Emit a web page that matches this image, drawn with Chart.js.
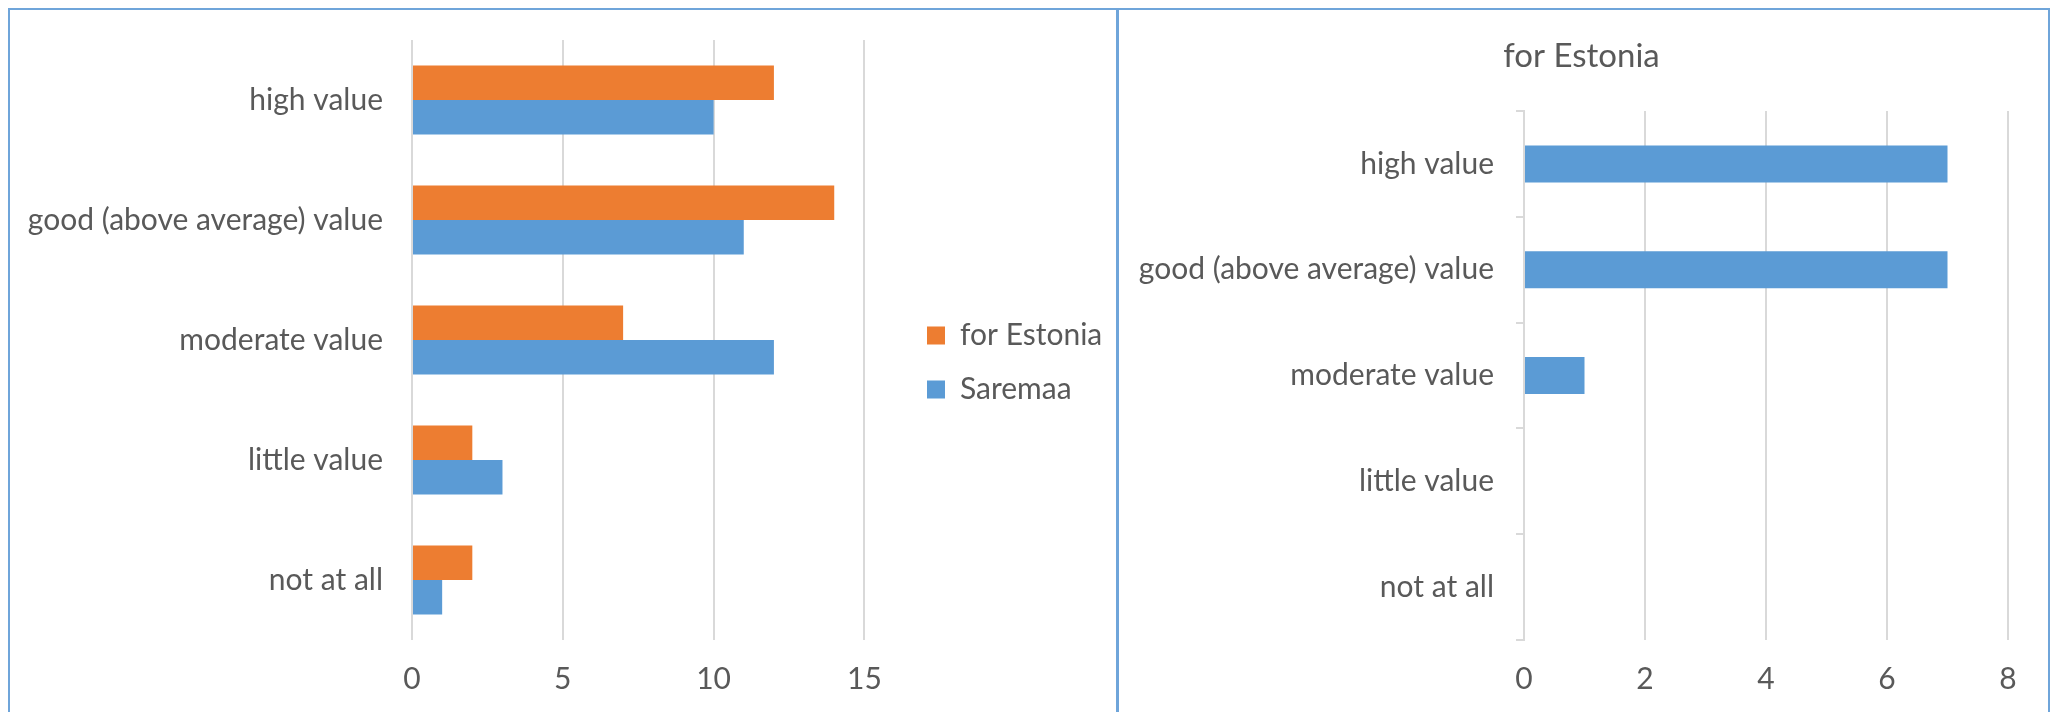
<!DOCTYPE html>
<html>
<head>
<meta charset="utf-8">
<script src="https://cdn.jsdelivr.net/npm/chart.js@4.4.1/dist/chart.umd.min.js"></script>
<style>
  html, body { margin: 0; padding: 0; background: #fff; overflow: hidden; }
  .panel { position: absolute; top: 8px; height: 720px; border: 2px solid #6fa5da; box-sizing: border-box; }
  #p1 { left: 8px; width: 1110px; }
  #p2 { left: 1117px; width: 933px; }
  canvas { position: absolute; }
</style>
</head>
<body>
<div class="panel" id="p1"></div>
<div class="panel" id="p2"></div>
<div style="position:absolute;left:10px;top:10px;width:1106px;height:702px;"><canvas id="leftChart"></canvas></div>
<div style="position:absolute;left:1119px;top:10px;width:928px;height:702px;"><canvas id="rightChart"></canvas></div>
<script>
const categories = ['high value', 'good (above average) value', 'moderate value', 'little value', 'not at all'];
const estoniaValues = [12, 14, 7, 2, 2];
const saremaaValues = [10, 11, 12, 3, 1];
const rightValues = [7, 7, 1, 0, 0];
const leftTicks = [0, 5, 10, 15];

const FONT = "Lato, 'Open Sans', sans-serif";
const FS = 30;
const TEXT = '#595959';
const GRID = '#d9d9d9';
const ORANGE = '#ED7D31';
const BLUE = '#5B9BD5';

Chart.defaults.font.family = FONT;
Chart.defaults.color = TEXT;
Chart.defaults.animation = false;

// nudge the title a little to the right, like in the original
const titleShift = {
    id: 'titleShift',
    afterLayout(chart) {
        const t = chart.titleBlock;
        if (t) { t.left += 18; t.right += 18; }
    }
};

document.addEventListener('DOMContentLoaded', () => {
    const left = document.getElementById('leftChart');
    left.width = 1106; left.height = 702;
    const lctx = left.getContext('2d');

    // legend sits right of the plot; work out its width so the plot ends where it should
    lctx.font = FS + 'px ' + FONT;
    const legPad = 24, box = 18;
    const textW = Math.max(lctx.measureText('for Estonia').width, lctx.measureText('Saremaa').width);
    const legendW = legPad + box + FS / 2 + textW + 12;
    const plotRight = 891;
    const padRight = Math.max(0, 1106 - plotRight - legendW);

    new Chart(lctx, {
        type: 'bar',
        data: {
            labels: categories,
            datasets: [
                { label: 'for Estonia', data: estoniaValues, backgroundColor: ORANGE, borderWidth: 0,
                  categoryPercentage: 0.575, barPercentage: 1.0 },
                { label: 'Saremaa', data: saremaaValues, backgroundColor: BLUE, borderWidth: 0,
                  categoryPercentage: 0.575, barPercentage: 1.0 }
            ]
        },
        options: {
            indexAxis: 'y',
            responsive: false,
            layout: { padding: { top: 30, right: padRight, left: 0, bottom: 0 } },
            plugins: {
                tooltip: { enabled: false },
                legend: {
                    position: 'right',
                    fullSize: false,
                    title: { display: true, text: '', font: { size: 15 }, padding: 13.5 },
                    labels: { boxWidth: box, boxHeight: box, padding: legPad, font: { size: FS }, color: TEXT }
                }
            },
            scales: {
                x: {
                    min: 0, max: 16.28,
                    ticks: { stepSize: 5, padding: 21, font: { size: FS }, color: TEXT },
                    afterBuildTicks: (axis) => {
                        axis.ticks = leftTicks.map(v => ({ value: v }));
                    },
                    afterFit: (axis) => { axis.height = 72; },
                    grid: { color: GRID, lineWidth: 2, drawTicks: false },
                    border: { display: false }
                },
                y: {
                    ticks: { padding: 21, font: { size: FS }, color: TEXT },
                    afterFit: (axis) => { axis.width = 402; axis.paddingTop = 0; axis.paddingBottom = 0; },
                    grid: { display: false },
                    border: { display: false }
                }
            }
        }
    });

    const right = document.getElementById('rightChart');
    right.width = 928; right.height = 702;
    new Chart(right.getContext('2d'), {
        type: 'bar',
        data: {
            labels: categories,
            datasets: [
                { label: 'for Estonia', data: rightValues, backgroundColor: BLUE, borderWidth: 0,
                  categoryPercentage: 0.35, barPercentage: 1.0 }
            ]
        },
        plugins: [titleShift],
        options: {
            indexAxis: 'y',
            responsive: false,
            layout: { padding: { top: 0, right: 39, left: 0, bottom: 0 } },
            plugins: {
                tooltip: { enabled: false },
                legend: { display: false },
                title: {
                    display: true, text: 'for Estonia', color: TEXT,
                    font: { size: 33, weight: 'normal' },
                    padding: { top: 27, bottom: 34.4 }
                }
            },
            scales: {
                x: {
                    min: 0, max: 8,
                    ticks: { stepSize: 2, padding: 21, font: { size: FS }, color: TEXT },
                    afterFit: (axis) => { axis.height = 72; },
                    grid: { color: GRID, lineWidth: 2, drawTicks: false },
                    border: { display: false }
                },
                y: {
                    ticks: { padding: 22, font: { size: FS }, color: TEXT },
                    afterFit: (axis) => { axis.width = 405; axis.paddingTop = 0; axis.paddingBottom = 0; },
                    grid: { display: true, drawOnChartArea: false, drawTicks: true, tickLength: 8, color: GRID, lineWidth: 2, offset: true },
                    border: { display: true, color: GRID, width: 2 }
                }
            }
        }
    });
});
</script>
</body>
</html>
